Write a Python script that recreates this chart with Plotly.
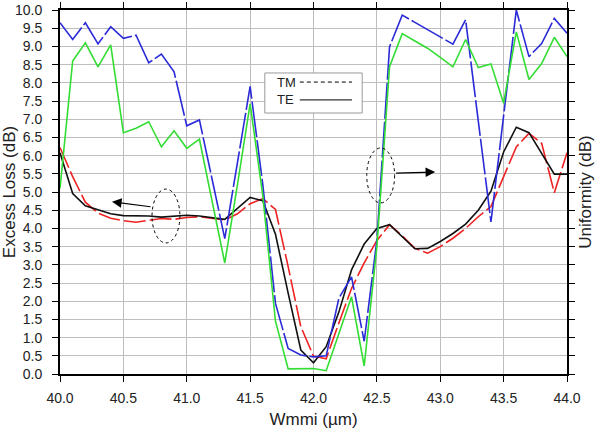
import plotly.graph_objects as go

x_wmmi = [40.0, 40.1, 40.2, 40.3, 40.4, 40.5, 40.6, 40.7, 40.8, 40.9,
          41.0, 41.1, 41.2, 41.3, 41.4, 41.5, 41.6, 41.7, 41.8, 41.9,
          42.0, 42.1, 42.2, 42.3, 42.4, 42.5, 42.6, 42.7, 42.8, 42.9,
          43.0, 43.1, 43.2, 43.3, 43.4, 43.5, 43.6, 43.7, 43.8, 43.9, 44.0]

uniformity_tm = [9.65, 9.19, 9.65, 9.07, 9.54, 9.22, 9.31, 8.55, 8.79, 8.30,
                 6.82, 6.98, 5.35, 3.72, 5.81, 7.90, 5.20, 1.94, 0.70, 0.52,
                 0.47, 0.50, 2.08, 2.67, 0.90, 3.68, 8.99, 9.86, 9.66, 9.46,
                 9.26, 9.06, 9.73, 6.95, 4.18, 7.10, 10.0, 8.72, 9.08, 9.77, 9.36]

uniformity_te = [5.10, 8.60, 9.10, 8.44, 9.04, 6.63, 6.75, 6.93, 6.24, 6.68,
                 6.20, 6.45, 4.75, 3.05, 5.20, 7.42, 4.90, 1.45, 0.14, 0.14,
                 0.15, 0.09, 1.12, 2.12, 0.22, 3.50, 8.44, 9.35, 9.15, 8.95,
                 8.70, 8.44, 9.19, 8.42, 8.52, 7.44, 9.40, 8.09, 8.53, 9.25, 8.72]

loss_tm = [6.22, 5.42, 4.72, 4.42, 4.28, 4.21, 4.17, 4.21, 4.27, 4.25,
           4.30, 4.32, 4.27, 4.23, 4.40, 4.68, 4.82, 4.52, 2.95, 1.30,
           0.49, 0.42, 1.40, 2.35, 3.05, 3.67, 4.10, 3.80, 3.45, 3.32,
           3.50, 3.73, 4.00, 4.32, 4.60, 5.42, 6.24, 6.61, 6.34, 4.98, 6.08]

loss_te = [6.08, 4.96, 4.62, 4.50, 4.40, 4.35, 4.35, 4.34, 4.31, 4.34,
           4.36, 4.34, 4.30, 4.25, 4.55, 4.85, 4.76, 3.84, 2.22, 0.66,
           0.31, 0.75, 1.70, 2.86, 3.57, 4.00, 4.10, 3.78, 3.44, 3.45,
           3.64, 3.86, 4.12, 4.50, 5.02, 6.10, 6.78, 6.63, 6.06, 5.49, 5.49]

x_ticks = [40.0, 40.5, 41.0, 41.5, 42.0, 42.5, 43.0, 43.5, 44.0]
y_ticks = [i * 0.5 for i in range(21)]

fig = go.Figure()
fig.add_trace(go.Scatter(x=x_wmmi, y=uniformity_tm, mode="lines", yaxis="y2",
                         line=dict(color="#2a2ad8", width=1.6, dash="36px,3px"), showlegend=False))
fig.add_trace(go.Scatter(x=x_wmmi, y=uniformity_te, mode="lines", yaxis="y2",
                         line=dict(color="#33dd33", width=1.6), showlegend=False))
fig.add_trace(go.Scatter(x=x_wmmi, y=loss_tm, mode="lines",
                         line=dict(color="#ee2222", width=1.6, dash="22px,4px"), showlegend=False))
fig.add_trace(go.Scatter(x=x_wmmi, y=loss_te, mode="lines",
                         line=dict(color="#111111", width=1.6), showlegend=False))

font = "Liberation Sans, Arial, sans-serif"
axis_common = dict(showline=True, linecolor="black", linewidth=2, ticks="outside",
                   ticklen=6, tickcolor="black", tickwidth=1, automargin=False,
                   gridcolor="#bdbdbd", gridwidth=1, zeroline=False,
                   tickfont=dict(family=font, size=14, color="#222"))

fig.update_layout(
    width=603, height=429,
    margin=dict(l=60, r=36, t=10, b=55),
    paper_bgcolor="white", plot_bgcolor="white",
    xaxis=dict(range=[40, 44], tickvals=x_ticks, ticktext=[f"{v:.1f}" for v in x_ticks],
               mirror="ticks", showgrid=True, ticklabelstandoff=4,
               title=dict(text="Wmmi (µm)", font=dict(family=font, size=17, color="#222"), standoff=10),
               **axis_common),
    yaxis=dict(range=[0, 10], tickvals=y_ticks, ticktext=[f"{v:.1f}" for v in y_ticks],
               mirror="ticks", showgrid=True, ticklabelstandoff=7,
               title=dict(text="Excess Loss (dB)", font=dict(family=font, size=17, color="#222"), standoff=0),
               **axis_common),
    yaxis2=dict(range=[0, 10], overlaying="y", side="right", showgrid=False, automargin=False,
                showticklabels=False, ticks="", showline=False, zeroline=False,
                title=dict(text="Uniformity (dB)", font=dict(family=font, size=17, color="#222"), standoff=12)),
)

# annotation ellipses and arrows
fig.add_shape(type="circle", xref="x", yref="y", x0=40.726, x1=40.946, y0=3.6, y1=5.08,
              line=dict(color="black", width=1, dash="3px,3px"))
fig.add_shape(type="circle", xref="x", yref="y", x0=42.42, x1=42.64, y0=4.70, y1=6.21,
              line=dict(color="black", width=1, dash="3px,3px"))
fig.add_annotation(x=40.41, y=4.73, ax=40.726, ay=4.59, xref="x", yref="y", axref="x", ayref="y",
                   showarrow=True, arrowhead=2, arrowsize=1.6, arrowwidth=1.2, arrowcolor="black", text="")
fig.add_annotation(x=42.96, y=5.55, ax=42.64, ay=5.52, xref="x", yref="y", axref="x", ayref="y",
                   showarrow=True, arrowhead=2, arrowsize=1.6, arrowwidth=1.2, arrowcolor="black", text="")

# legend box
fig.add_shape(type="rect", xref="paper", yref="paper", x0=0.404, x1=0.596, y0=0.717, y1=0.827,
              line=dict(color="#999", width=1), fillcolor="white", layer="above")
fig.add_shape(type="line", xref="paper", yref="paper", x0=0.473, x1=0.576, y0=0.802, y1=0.802,
              line=dict(color="black", width=1, dash="4px,3px"), layer="above")
fig.add_shape(type="line", xref="paper", yref="paper", x0=0.473, x1=0.576, y0=0.753, y1=0.753,
              line=dict(color="black", width=1), layer="above")
fig.add_annotation(x=0.425, y=0.802, xref="paper", yref="paper", text="TM", showarrow=False,
                   xanchor="left", yanchor="middle", font=dict(family=font, size=13, color="#222"))
fig.add_annotation(x=0.425, y=0.753, xref="paper", yref="paper", text="TE", showarrow=False,
                   xanchor="left", yanchor="middle", font=dict(family=font, size=13, color="#222"))

fig.write_html("out.html")
